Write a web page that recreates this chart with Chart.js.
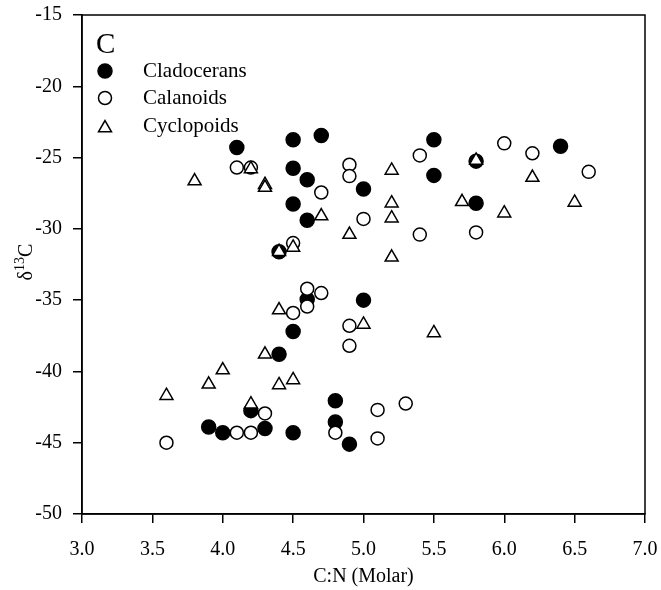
<!DOCTYPE html>
<html>
<head>
<meta charset="utf-8">
<script src="https://cdn.jsdelivr.net/npm/chart.js@4.4.0/dist/chart.umd.min.js"></script>
<style>
    html, body { margin: 0; padding: 0; background: #fff; }
    #wrap { width: 661px; height: 590px; }
</style>
</head>
<body>
<div id="wrap"><canvas id="chart" width="661" height="590"></canvas></div>
<script>
// C:N (x) and d13C (y)
const cladoceransX = [4.1, 4.5, 4.7, 4.5, 4.6, 5.0, 4.5, 4.6, 5.5, 5.5, 5.8, 5.8, 6.4,
    4.4, 4.6, 5.0, 4.5, 4.4, 4.2, 4.8, 3.9, 4.0, 4.3, 4.5, 4.8, 4.9];
const cladoceransY = [-24.3, -23.75, -23.45, -25.75, -26.55, -27.2, -28.25, -29.4, -23.75, -26.25, -25.25, -28.2, -24.2,
    -31.6, -34.95, -35.0, -37.2, -38.8, -42.75, -42.05, -43.9, -44.3, -44.0, -44.3, -43.55, -45.1];

const calanoidsX = [4.1, 4.2, 4.9, 4.9, 4.7, 5.0, 5.4, 6.0, 6.2, 6.6, 5.4, 5.8, 4.5,
    4.6, 4.7, 4.6, 4.5, 4.9, 4.9, 4.3, 5.1, 3.6, 4.1, 4.2, 4.8, 5.1, 5.3];
const calanoidsY = [-25.7, -25.7, -25.5, -26.3, -27.45, -29.3, -24.85, -24.0, -24.7, -26.0, -30.4, -30.25, -31.0,
    -34.2, -34.5, -35.45, -35.9, -36.8, -38.2, -42.95, -42.7, -45.0, -44.3, -44.3, -44.3, -44.7, -42.25];

const cyclopoidsX = [3.8, 4.2, 4.3, 4.3, 4.7, 4.9, 5.2, 5.8, 6.2, 5.7, 5.2, 5.2, 6.0, 6.5,
    5.2, 4.4, 4.5, 4.4, 5.0, 4.3, 4.0, 3.9, 4.4, 4.5, 3.6, 4.2, 5.5];
const cyclopoidsY = [-26.65, -25.8, -26.9, -27.1, -29.1, -30.4, -25.9, -25.2, -26.4, -28.1, -28.2, -29.25, -28.9, -28.15,
    -32.0, -31.6, -31.3, -35.7, -36.7, -38.8, -39.9, -40.9, -40.95, -40.6, -41.7, -42.3, -37.3];

const xTicks = [3.0, 3.5, 4.0, 4.5, 5.0, 5.5, 6.0, 6.5, 7.0];
const yTicks = [-50, -45, -40, -35, -30, -25, -20, -15];

const SERIF = '"Liberation Serif", "Times New Roman", serif';

function toPoints(xs, ys) {
    return xs.map((x, i) => ({ x: x, y: ys[i] }));
}

const seriesStyles = [
    { label: 'Cladocerans', pointStyle: 'circle', backgroundColor: '#000', radius: 7 },
    { label: 'Calanoids', pointStyle: 'circle', backgroundColor: '#fff', radius: 6.5 },
    { label: 'Cyclopoids', pointStyle: 'triangle', backgroundColor: '#fff', radius: 7.5 }
];

// frame, panel letter, legend and the y title with its superscript
const decorations = {
    id: 'decorations',
    afterDraw(chart) {
        const { ctx, chartArea } = chart;
        ctx.save();
        ctx.strokeStyle = '#000';
        ctx.lineWidth = 1.5;
        ctx.strokeRect(chartArea.left, chartArea.top,
            chartArea.right - chartArea.left, chartArea.bottom - chartArea.top);

        ctx.fillStyle = '#000';
        ctx.textBaseline = 'alphabetic';
        ctx.font = '29px ' + SERIF;
        ctx.fillText('C', 96, 53);

        ctx.font = '21px ' + SERIF;
        ctx.textBaseline = 'middle';
        const rows = [71, 98, 126];
        seriesStyles.forEach((s, i) => {
            ctx.fillStyle = s.backgroundColor;
            ctx.strokeStyle = '#000';
            ctx.lineWidth = 1.5;
            Chart.helpers.drawPoint(ctx, {
                pointStyle: s.pointStyle, radius: s.radius, rotation: 0, borderWidth: 1.5
            }, 105, rows[i] + (s.pointStyle === 'triangle' ? 2 : 0));
            ctx.fillStyle = '#000';
            ctx.fillText(s.label, 143, rows[i]);
        });

        // y axis title: delta 13 C, rotated
        ctx.translate(32, 262);
        ctx.rotate(-Math.PI / 2);
        ctx.textBaseline = 'alphabetic';
        ctx.font = '20px ' + SERIF;
        const wD = ctx.measureText('\u03b4').width;
        ctx.font = '14px ' + SERIF;
        const w13 = ctx.measureText('13').width;
        ctx.font = '20px ' + SERIF;
        const wC = ctx.measureText('C').width;
        let x0 = -(wD + w13 + wC) / 2;
        ctx.fillText('\u03b4', x0, 0);
        ctx.font = '14px ' + SERIF;
        ctx.fillText('13', x0 + wD, -8);
        ctx.font = '20px ' + SERIF;
        ctx.fillText('C', x0 + wD + w13, 0);
        ctx.restore();

        ctx.save();
        ctx.fillStyle = '#000';
        ctx.font = '20px ' + SERIF;
        ctx.textAlign = 'center';
        ctx.textBaseline = 'middle';
        ctx.fillText('C:N (Molar)', (chartArea.left + chartArea.right) / 2, 577);
        ctx.restore();
    }
};

const allY = [cladoceransY, calanoidsY, cyclopoidsY];
const allX = [cladoceransX, calanoidsX, cyclopoidsX];

new Chart(document.getElementById('chart'), {
    type: 'scatter',
    data: {
        datasets: seriesStyles.map((s, i) => ({
            label: s.label,
            data: toPoints(allX[i], allY[i]),
            pointStyle: s.pointStyle,
            pointRadius: s.radius,
            pointHoverRadius: s.radius,
            backgroundColor: s.backgroundColor,
            borderColor: '#000',
            borderWidth: 1.5,
            order: 3 - i
        }))
    },
    options: {
        responsive: false,
        animation: false,
        layout: { padding: { top: 15, right: 16, left: 0, bottom: 0 } },
        plugins: {
            legend: { display: false },
            tooltip: { enabled: false }
        },
        scales: {
            x: {
                type: 'linear',
                min: 3,
                max: 7,
                afterBuildTicks: scale => { scale.ticks = xTicks.map(v => ({ value: v })); },
                afterFit: scale => {
                    scale.height = 76;
                    scale.paddingLeft = 0;
                    scale.paddingRight = 0;
                },
                grid: { drawOnChartArea: false, drawTicks: true, tickLength: 9, color: '#000', lineWidth: 1.5 },
                border: { color: '#000', width: 1.5 },
                ticks: {
                    color: '#000',
                    padding: 15,
                    maxRotation: 0,
                    font: { family: SERIF, size: 20 },
                    callback: v => v.toFixed(1)
                }
            },
            y: {
                type: 'linear',
                min: -50,
                max: -15,
                afterBuildTicks: scale => { scale.ticks = yTicks.map(v => ({ value: v })); },
                afterFit: scale => {
                    scale.width = 82;
                    scale.paddingTop = 0;
                    scale.paddingBottom = 0;
                },
                grid: { drawOnChartArea: false, drawTicks: true, tickLength: 9, color: '#000', lineWidth: 1.5 },
                border: { color: '#000', width: 1.5 },
                ticks: {
                    color: '#000',
                    padding: 11,
                    font: { family: SERIF, size: 20 },
                    callback: v => String(v)
                }
            }
        }
    },
    plugins: [decorations]
});
</script>
</body>
</html>
